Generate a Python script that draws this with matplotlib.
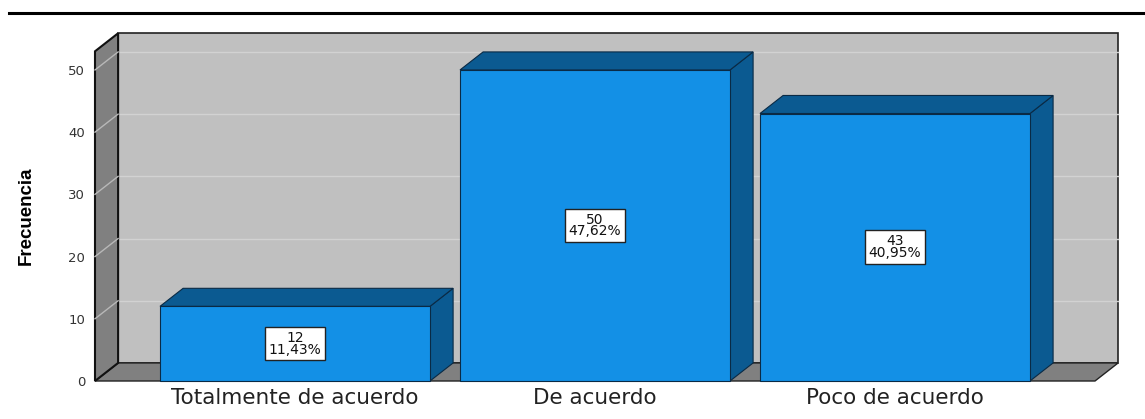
import numpy as np
import matplotlib.pyplot as plt
from matplotlib.patches import Polygon, Rectangle
from matplotlib.lines import Line2D

# frequency table
categorias = ['Totalmente de acuerdo', 'De acuerdo', 'Poco de acuerdo']
frecuencias = [12, 50, 43]
yticks = [0, 10, 20, 30, 40, 50]

total = sum(frecuencias)
porcentajes = [f / total * 100 for f in frecuencias]

# 3d look
ymax = 53
dx, dy = 0.077, 2.9
ancho = 0.9
x0, x1 = -0.6667, len(categorias) - 0.3333

c_frente = '#1390e6'
c_lado = '#0b5a91'
c_pared = '#c0c0c0'
c_piso = '#808080'
c_grid = '#d2d2d2'

fig = plt.figure(figsize=(11.45, 4.19), dpi=100)
ax = fig.add_axes([95 / 1145, 38 / 419, 1000 / 1145, 329.7 / 419])
ax.set_xlim(x0, x1)
ax.set_ylim(0, ymax)
ax.patch.set_visible(False)
for s in ax.spines.values():
    s.set_visible(False)

# walls and floor
ax.add_patch(Rectangle((x0 + dx, dy), x1 - x0, ymax, facecolor=c_pared,
                       edgecolor='#222222', lw=1.2, clip_on=False, zorder=1))
ax.add_patch(Polygon([(x0, 0), (x1, 0), (x1 + dx, dy), (x0 + dx, dy)],
                     facecolor=c_piso, edgecolor='#222222', lw=1, clip_on=False, zorder=2))
ax.add_patch(Polygon([(x0, 0), (x0 + dx, dy), (x0 + dx, ymax + dy), (x0, ymax)],
                     facecolor=c_piso, edgecolor='#111111', lw=1.5, clip_on=False, zorder=2))

# gridlines on back wall and left wall
for t in yticks[1:]:
    ax.plot([x0 + dx, x1 + dx], [t + dy, t + dy], color=c_grid, lw=1, clip_on=False, zorder=1.5)
    ax.plot([x0, x0 + dx], [t, t + dy], color='#b8b8b8', lw=1, clip_on=False, zorder=2.5)

# bars
for i, v in enumerate(frecuencias):
    l, r = i - ancho / 2, i + ancho / 2
    ax.add_patch(Polygon([(r, 0), (r + dx, dy), (r + dx, v + dy), (r, v)],
                         facecolor=c_lado, edgecolor='#0a2a45', lw=0.8, clip_on=False, zorder=3))
    ax.add_patch(Polygon([(l, v), (r, v), (r + dx, v + dy), (l + dx, v + dy)],
                         facecolor=c_lado, edgecolor='#0a2a45', lw=0.8, clip_on=False, zorder=3))
    ax.add_patch(Rectangle((l, 0), ancho, v, facecolor=c_frente,
                           edgecolor='#0a2a45', lw=0.8, clip_on=False, zorder=4))
    etiqueta = f'{v}\n{porcentajes[i]:.2f}%'.replace('.', ',')
    ax.text(i, v / 2, etiqueta, ha='center', va='center', fontsize=10,
            linespacing=0.8, color='#111111', zorder=6,
            bbox=dict(boxstyle='square,pad=0.28', facecolor='white',
                      edgecolor='#222222', lw=1))

ax.set_yticks(yticks)
ax.set_xticks(range(len(categorias)))
ax.set_xticklabels(categorias, fontsize=15.5, color='#222222')
ax.tick_params(axis='y', length=0, pad=7, labelsize=9.5, labelcolor='#333333')
ax.tick_params(axis='x', length=0, pad=5)
ax.set_ylabel('Frecuencia', fontsize=13.5, fontweight='bold',
              family='Liberation Sans', labelpad=24)

# rule across the top
fig.add_artist(Line2D([9 / 1145, 1.0], [1 - 13 / 419, 1 - 13 / 419],
                      color='black', lw=2.2, transform=fig.transFigure))

fig.savefig('out.png', dpi=100)
